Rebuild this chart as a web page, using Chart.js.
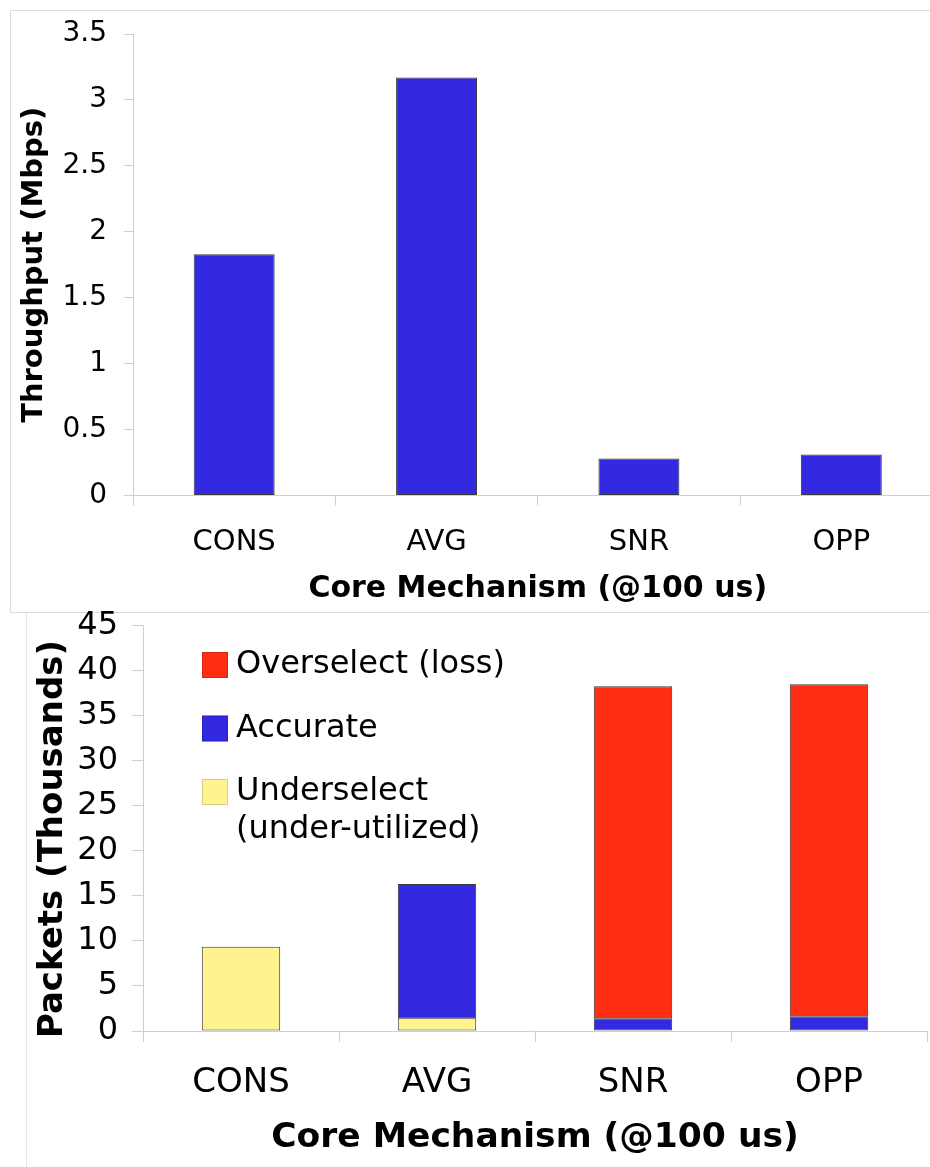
<!DOCTYPE html>
<html><head><meta charset="utf-8">
<script src="https://cdn.jsdelivr.net/npm/chart.js@4.4.1/dist/chart.umd.min.js"></script>
<style>
html,body{margin:0;padding:0;background:#fff;width:930px;height:1167px;overflow:hidden;position:relative}
#box1{position:absolute;left:10px;top:10px;width:960px;height:601px;border:1px solid #dcdcdc;}
#box2{position:absolute;left:26px;top:612px;width:960px;height:600px;border-left:1px solid #e6e6e6;}
canvas{position:absolute;left:0}
#c1{top:0}
#c2{top:592px}
</style></head><body>
<div id="box1"></div><div id="box2"></div>
<canvas id="c1" width="960" height="612"></canvas>
<canvas id="c2" width="960" height="575"></canvas>
<script>
// ---- data ----
const categories = ['CONS', 'AVG', 'SNR', 'OPP'];
const throughputMbps = [1.83, 3.17, 0.28, 0.31];
const underselect = [9.35, 1.41, null, null];
const accurate = [null, 14.9, 1.41, 1.63];
const overselect = [null, null, 36.83, 36.83];
const seriesNames = ['Underselect (under-utilized)', 'Accurate', 'Overselect (loss)'];
const legendLines = [['Overselect (loss)'], ['Accurate'], ['Underselect', '(under-utilized)']];
const xTitle = 'Core Mechanism (@100 us)';
const yTitleTop = 'Throughput (Mbps)';
const yTitleBottom = 'Packets (Thousands)';

const FONT = "'DejaVu Sans', Verdana, sans-serif";
const BLUE = '#3229e0', RED = '#ff2d12', YELLOW = '#fff38f';
const AXIS = '#cfcfcf';

Chart.defaults.font.family = FONT;
Chart.defaults.color = '#000';

const plainNum = v => String(Math.round(v * 100) / 100);

// ---- top chart ----
new Chart(document.getElementById('c1'), {
  type: 'bar',
  data: {
    labels: categories,
    datasets: [{
      label: yTitleTop,
      data: throughputMbps,
      backgroundColor: BLUE,
      borderColor: '#3a3a3a',
      borderWidth: 1,
      borderSkipped: false,
      barPercentage: 0.4,
      categoryPercentage: 1
    }]
  },
  options: {
    responsive: false, animation: false, devicePixelRatio: 1,
    layout: { padding: { left: 0, right: 17.5, top: 34, bottom: 0 } },
    plugins: { legend: { display: false }, tooltip: { enabled: false } },
    scales: {
      x: {
        afterFit(s) { s.height = 116.5; },
        grid: { drawOnChartArea: false, drawTicks: true, tickLength: 10, color: AXIS },
        border: { color: AXIS },
        ticks: { font: { size: 29 }, padding: 19.5, maxRotation: 0 },
        title: { display: true, text: xTitle, font: { size: 30, weight: 'bold' }, padding: { top: 0, bottom: 5 } }
      },
      y: {
        min: 0, max: 3.5,
        afterFit(s) { s.width = 133; },
        grid: { drawOnChartArea: false, drawTicks: true, tickLength: 9, color: AXIS },
        border: { color: AXIS },
        ticks: { stepSize: 0.5, font: { size: 28 }, padding: 17, callback: plainNum },
        title: { display: true, text: yTitleTop, font: { size: 29, weight: 'bold' }, padding: { top: 17, bottom: 0 } }
      }
    }
  }
});

// ---- bottom chart ----
const legendPlugin = {
  id: 'boxLegend',
  afterDraw(chart, args, opts) {
    const ctx = chart.ctx;
    const colors = chart.data.datasets.map(d => d.backgroundColor).slice().reverse();
    ctx.save();
    ctx.font = '32px ' + FONT;
    ctx.textBaseline = 'middle';
    ctx.textAlign = 'left';
    legendLines.forEach((lines, i) => {
      const cy = opts.y0 + i * opts.gap;
      ctx.fillStyle = colors[i];
      ctx.fillRect(opts.x, cy - 13, 26, 26);
      ctx.strokeStyle = 'rgba(0,0,0,0.15)';
      ctx.lineWidth = 1;
      ctx.strokeRect(opts.x + 0.5, cy - 12.5, 25, 25);
      ctx.fillStyle = '#000';
      lines.forEach((t, j) => ctx.fillText(t, opts.x + 34, cy + j * 38));
    });
    // rotated axis title
    ctx.font = 'bold 34px ' + FONT;
    ctx.textAlign = 'center';
    ctx.translate(opts.titleX, opts.titleY);
    ctx.rotate(-Math.PI / 2);
    ctx.fillText(yTitleBottom, 0, 0);
    ctx.restore();
  }
};

const segStyle = { borderColor: '#3a3a3a', borderWidth: 1, borderSkipped: false, barPercentage: 0.4, categoryPercentage: 1 };

new Chart(document.getElementById('c2'), {
  type: 'bar',
  data: {
    labels: categories,
    datasets: [
      Object.assign({ label: seriesNames[0], data: underselect, backgroundColor: YELLOW }, segStyle),
      Object.assign({ label: seriesNames[1], data: accurate, backgroundColor: BLUE }, segStyle),
      Object.assign({ label: seriesNames[2], data: overselect, backgroundColor: RED }, segStyle)
    ]
  },
  plugins: [legendPlugin],
  options: {
    responsive: false, animation: false, devicePixelRatio: 1,
    layout: { padding: { left: 0, right: 33, top: 33, bottom: 0 } },
    plugins: {
      legend: { display: false }, tooltip: { enabled: false },
      boxLegend: { x: 202, y0: 73, gap: 63.5, titleX: 53, titleY: 247 }
    },
    scales: {
      x: {
        stacked: true,
        afterFit(s) { s.height = 136; },
        grid: { drawOnChartArea: false, drawTicks: true, tickLength: 11, color: AXIS },
        border: { color: AXIS },
        ticks: { font: { size: 34 }, padding: 20.5, maxRotation: 0 },
        title: { display: true, text: xTitle, font: { size: 34.5, weight: 'bold' }, padding: { top: 0, bottom: 8 } }
      },
      y: {
        stacked: true, min: 0, max: 45,
        afterFit(s) { s.width = 143; },
        grid: { drawOnChartArea: false, drawTicks: true, tickLength: 11, color: AXIS },
        border: { color: AXIS },
        ticks: { stepSize: 5, font: { size: 32 }, padding: 14 },
        title: { display: false }
      }
    }
  }
});
</script>
</body></html>
